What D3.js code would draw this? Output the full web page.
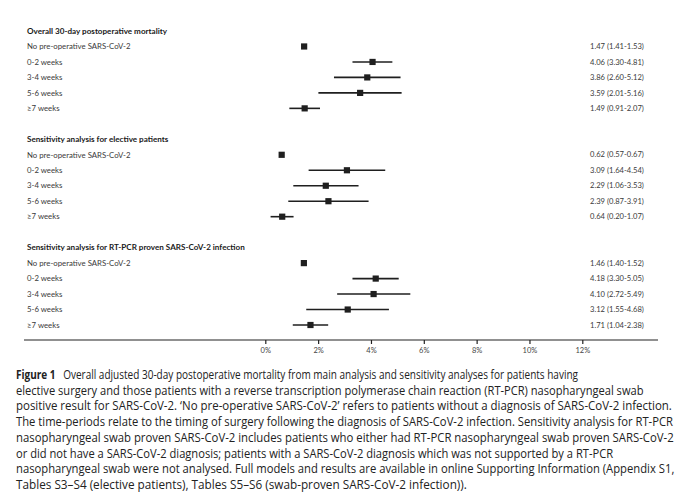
<!DOCTYPE html>
<html>
<head>
<meta charset="utf-8">
<script src="https://cdn.jsdelivr.net/npm/d3@7"></script>
<style>
  html, body { margin: 0; padding: 0; background: #fff; }
  svg { display: block; }
</style>
</head>
<body>
<svg id="chart" width="680" height="497"></svg>
<script>
// ---------------- DATA ----------------
const sectionTitles = [
  "Overall 30-day postoperative mortality",
  "Sensitivity analysis for elective patients",
  "Sensitivity analysis for RT-PCR proven SARS-CoV-2 infection"
];
const rowLabels = ["No pre-operative SARS-CoV-2", "0-2 weeks", "3-4 weeks", "5-6 weeks", "\u22657 weeks"];

const overallEst   = [1.47, 4.06, 3.86, 3.59, 1.49];
const overallLow   = [1.41, 3.30, 2.60, 2.01, 0.91];
const overallHigh  = [1.53, 4.81, 5.12, 5.16, 2.07];

const electiveEst  = [0.62, 3.09, 2.29, 2.39, 0.64];
const electiveLow  = [0.57, 1.64, 1.06, 0.87, 0.20];
const electiveHigh = [0.67, 4.54, 3.53, 3.91, 1.07];

const rtpcrEst     = [1.46, 4.18, 4.10, 3.12, 1.71];
const rtpcrLow     = [1.40, 3.30, 2.72, 1.55, 1.04];
const rtpcrHigh    = [1.52, 5.05, 5.49, 4.68, 2.38];

const tickValues = [0, 2, 4, 6, 8, 10, 12];

const captionBold = "Figure 1";
const captionLines = [
  "Overall adjusted 30-day postoperative mortality from main analysis and sensitivity analyses for patients having",
  "elective surgery and those patients with a reverse transcription polymerase chain reaction (RT-PCR) nasopharyngeal swab",
  "positive result for SARS-CoV-2. \u2018No pre-operative SARS-CoV-2\u2019 refers to patients without a diagnosis of SARS-CoV-2 infection.",
  "The time-periods relate to the timing of surgery following the diagnosis of SARS-CoV-2 infection. Sensitivity analysis for RT-PCR",
  "nasopharyngeal swab proven SARS-CoV-2 includes patients who either had RT-PCR nasopharyngeal swab proven SARS-CoV-2",
  "or did not have a SARS-CoV-2 diagnosis; patients with a SARS-CoV-2 diagnosis which was not supported by a RT-PCR",
  "nasopharyngeal swab were not analysed. Full models and results are available in online Supporting Information (Appendix S1,",
  "Tables S3\u2013S4 (elective patients), Tables S5\u2013S6 (swab-proven SARS-CoV-2 infection))."
];

// ---------------- BUILD ROWS ----------------
const sectionData = [
  [overallEst, overallLow, overallHigh],
  [electiveEst, electiveLow, electiveHigh],
  [rtpcrEst, rtpcrLow, rtpcrHigh]
];
const rows = [];
sectionTitles.forEach((t, s) => {
  rows.push({ type: "header", label: t });
  rowLabels.forEach((l, i) => {
    rows.push({ type: "data", label: l,
      est: sectionData[s][0][i], lo: sectionData[s][1][i], hi: sectionData[s][2][i] });
  });
  if (s < sectionTitles.length - 1) rows.push({ type: "blank" });
});
rows.forEach((r, i) => r.idx = i);

// ---------------- LAYOUT ----------------
const svg = d3.select("#chart");
const labelX = 27;
const valueX = 590;
const axisY = 340;

const x = d3.scaleLinear().domain([0, 12]).range([265.3, 582.3]);
const y = d3.scaleLinear().domain([0, rows.length - 1]).range([31, 325]);

const font = "Lato, 'Open Sans', sans-serif";

// Row labels
svg.append("g").selectAll("text")
  .data(rows.filter(r => r.type !== "blank"))
  .join("text")
  .attr("x", labelX)
  .attr("y", d => y(d.idx))
  .attr("dy", "0.35em")
  .attr("font-family", font)
  .attr("font-size", d => d.type === "header" ? 8.1 : 7.8)
  .attr("font-weight", d => d.type === "header" ? 700 : 400)
  .attr("fill", d => d.type === "header" ? "#1a1a1a" : "#3a3a3a")
  .text(d => d.label);

const dataRows = rows.filter(r => r.type === "data");

// CI lines
svg.append("g").selectAll("line")
  .data(dataRows)
  .join("line")
  .attr("x1", d => x(d.lo))
  .attr("x2", d => x(d.hi))
  .attr("y1", d => y(d.idx))
  .attr("y2", d => y(d.idx))
  .attr("stroke", "#1f1f1f")
  .attr("stroke-width", 1.6);

// Squares
const sq = 6.2;
svg.append("g").selectAll("rect")
  .data(dataRows)
  .join("rect")
  .attr("x", d => x(d.est) - sq / 2)
  .attr("y", d => y(d.idx) - sq / 2)
  .attr("width", sq)
  .attr("height", sq)
  .attr("fill", "#1f1f1f");

// Values text
const f2 = d3.format(".2f");
svg.append("g").selectAll("text")
  .data(dataRows)
  .join("text")
  .attr("x", valueX)
  .attr("y", d => y(d.idx))
  .attr("dy", "0.35em")
  .attr("font-family", font)
  .attr("font-size", 7.6)
  .attr("fill", "#3a3a3a")
  .text(d => `${f2(d.est)} (${f2(d.lo)}-${f2(d.hi)})`);

// Axis
const axisG = svg.append("g")
  .attr("transform", `translate(0,${axisY})`)
  .call(d3.axisBottom(x).tickValues(tickValues).tickFormat(d => d + "%").tickSize(4).tickSizeOuter(0));
axisG.select(".domain").remove();
axisG.selectAll(".tick line").attr("stroke", "#222").attr("stroke-width", 1.2);
axisG.selectAll(".tick text")
  .attr("font-family", font)
  .attr("font-size", 7.5)
  .attr("fill", "#444")
  .attr("y", 8);
axisG.append("line")
  .attr("x1", 24).attr("x2", 658)
  .attr("y1", 0).attr("y2", 0)
  .attr("stroke", "#222")
  .attr("stroke-width", 1.2);

// Caption
const capFont = "'Liberation Sans Narrow', 'Open Sans', sans-serif";
const capX = 16;
const capY0 = 379;
const capStep = 15.7;
const capEnds = [573, 644, 672, 673, 674, 613, 674, 467];

const cap = svg.append("g");
captionLines.forEach((line, i) => {
  const t = cap.append("text")
    .attr("x", 0)
    .attr("y", 0)
    .attr("font-family", capFont)
    .attr("font-size", 12.2)
    .attr("fill", "#222");
  if (i === 0) {
    t.append("tspan").attr("font-weight", 700).text(captionBold);
    t.append("tspan").attr("dx", 6).text(" " + line);
  } else {
    t.text(line);
  }
  const w = t.node().getComputedTextLength();
  const k = (capEnds[i] - capX) / w;
  t.attr("transform", `translate(${capX},${capY0 + i * capStep}) scale(${k},1)`);
});
</script>
</body>
</html>
